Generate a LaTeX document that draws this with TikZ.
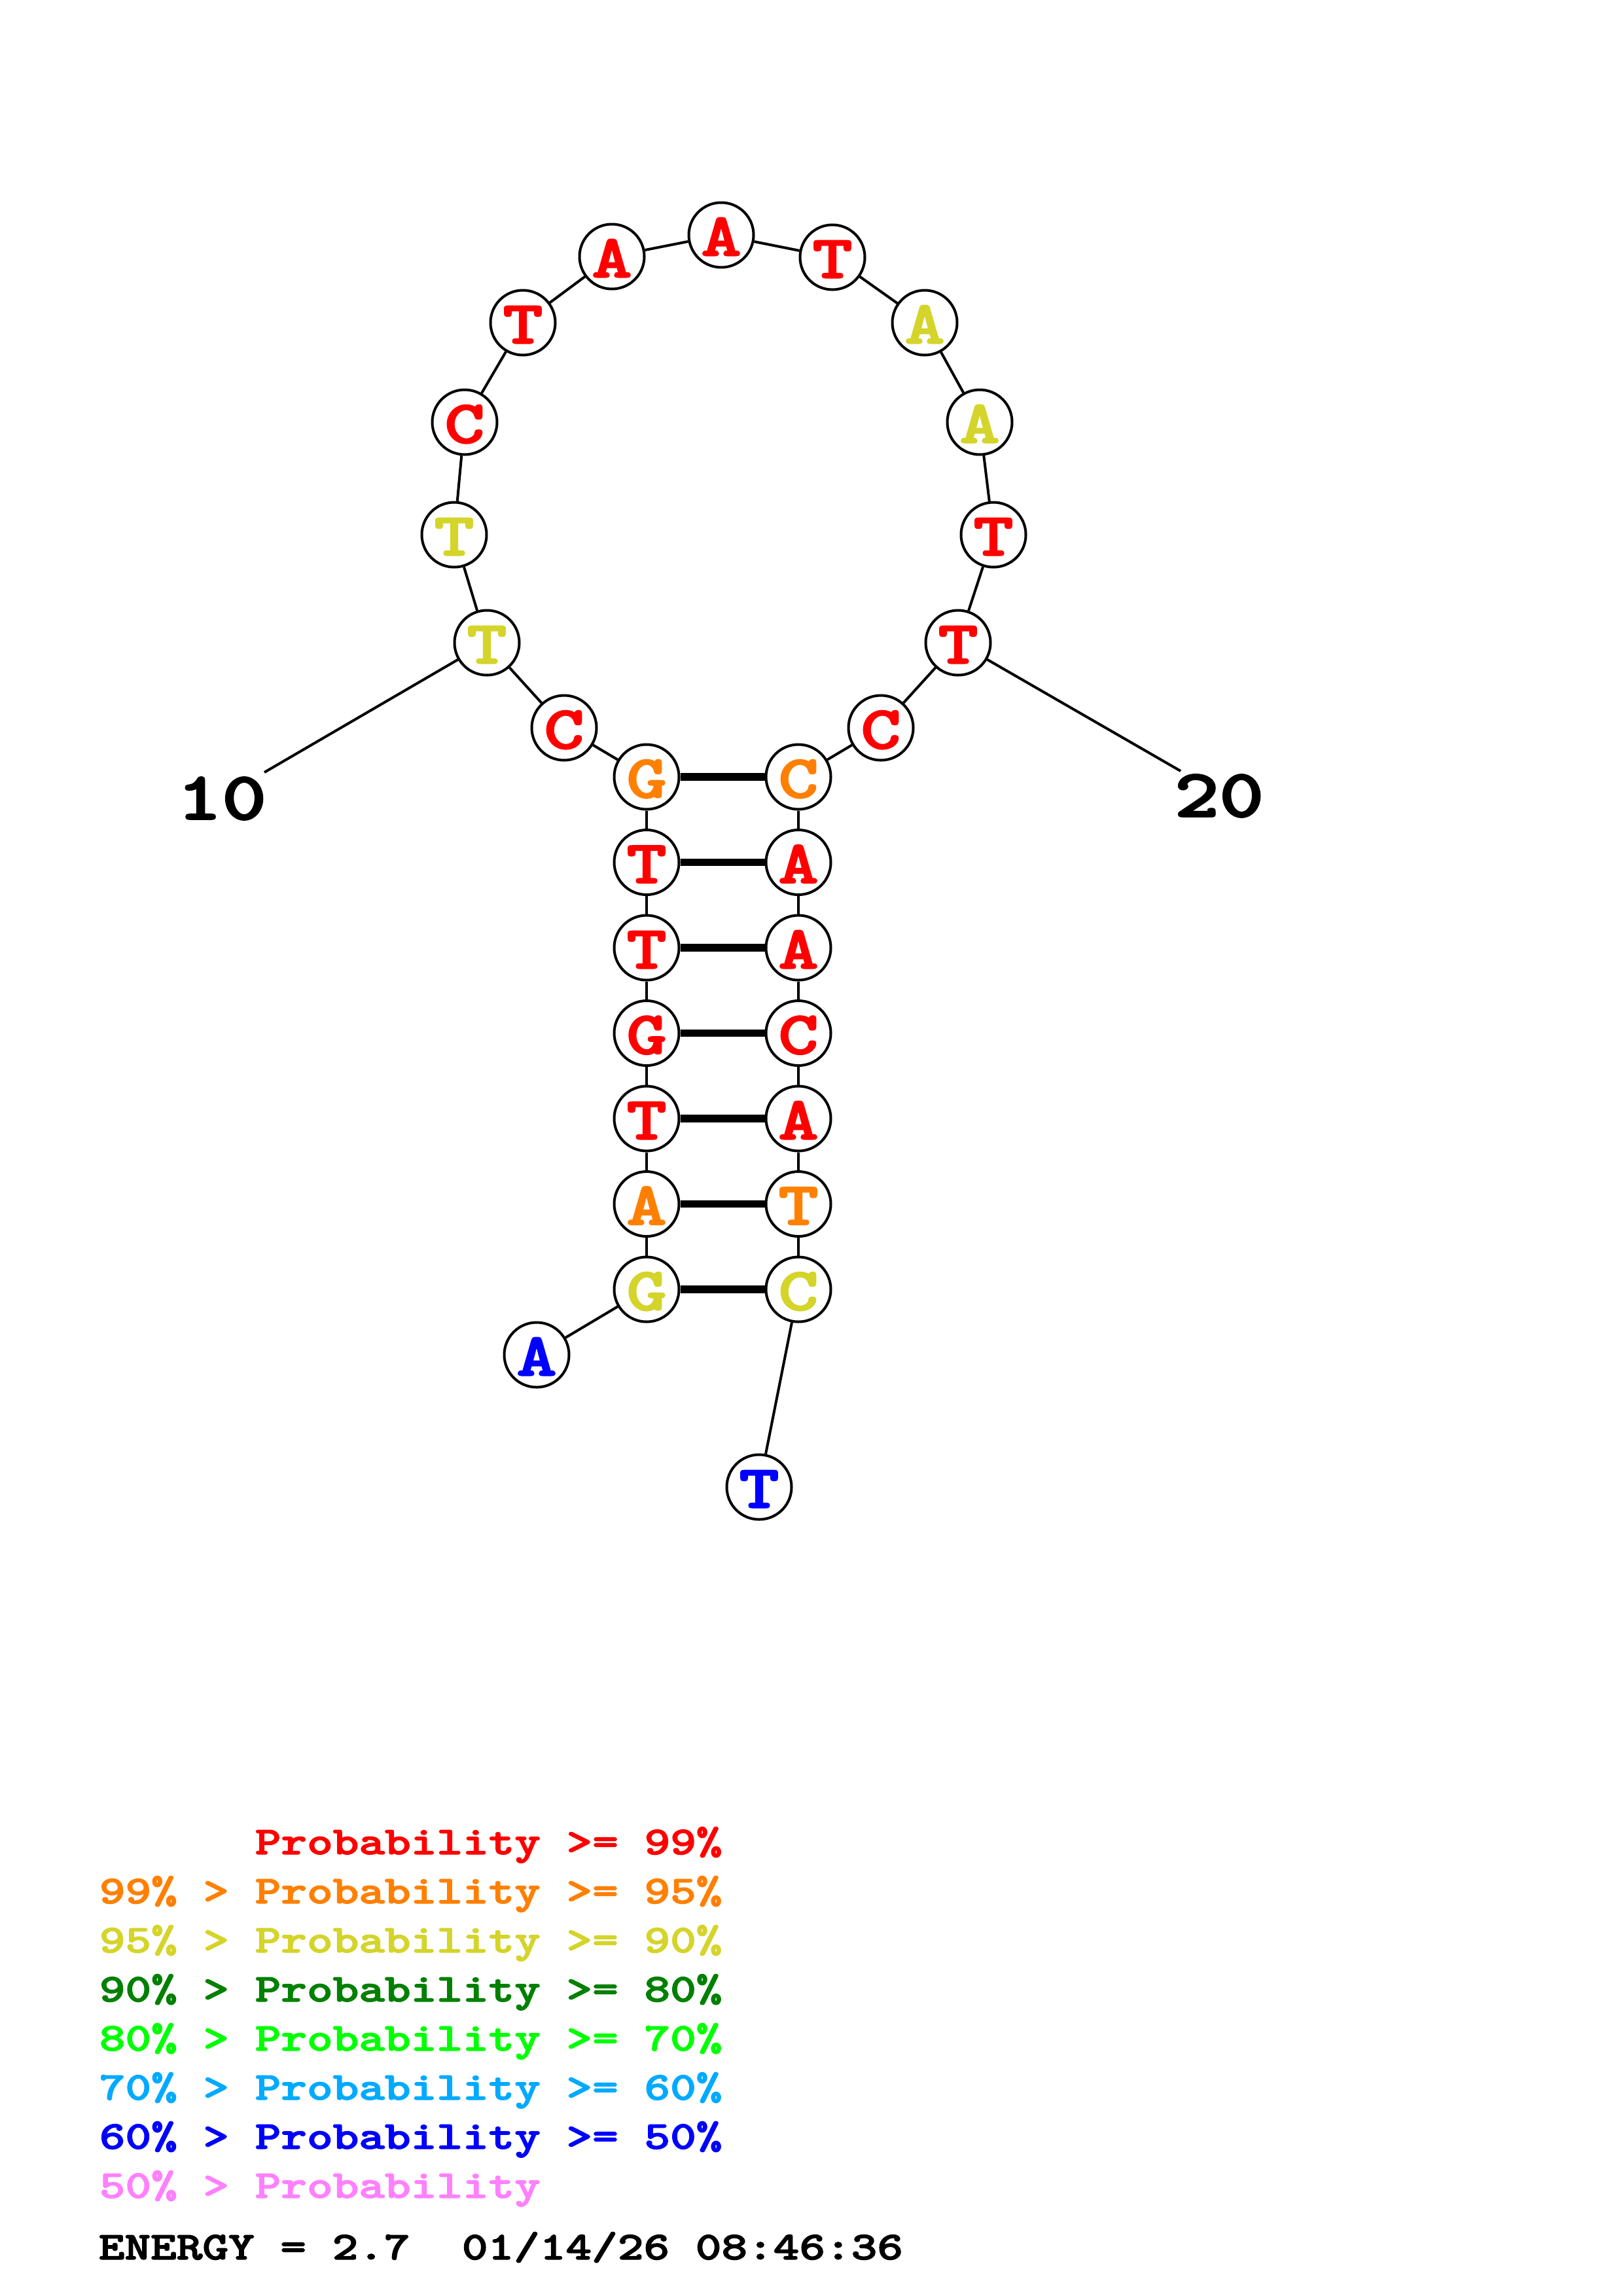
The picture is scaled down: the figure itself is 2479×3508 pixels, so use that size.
\documentclass[tikz,border=0pt]{standalone}
\usepackage{fontspec}
\usepackage{graphicx}
\newfontfamily\lmb{lmmonolt10-bold.otf}[FakeBold=2]
\newcommand{\cw}[1]{\scalebox{1.25}[1]{\lmb #1}}
\definecolor{pR}{RGB}{255,0,0}
\definecolor{pO}{RGB}{255,128,0}
\definecolor{pY}{RGB}{212,212,42}
\definecolor{pG}{RGB}{0,128,0}
\definecolor{pL}{RGB}{0,255,0}
\definecolor{pC}{RGB}{0,170,255}
\definecolor{pB}{RGB}{0,0,255}
\definecolor{pP}{RGB}{255,128,255}
\tikzset{
  base/.style={circle, draw=black, line width=0.96bp, fill=white, inner sep=0pt,
    minimum size=23.76bp, text height=15.2bp, text depth=0pt,
    font=\fontsize{22.4bp}{26bp}\selectfont},
  bb/.style={line width=0.96bp, draw=black},
  bond/.style={line width=2.7bp, draw=black},
  numlab/.style={inner sep=0pt, font=\fontsize{25bp}{28bp}\selectfont},
  leg/.style={anchor=base west, inner sep=0pt, font=\fontsize{14.5bp}{18bp}\selectfont}
}
\begin{document}
\begin{tikzpicture}[x=0.24bp, y=-0.24bp]
\useasboundingbox[fill=white] (0,0) rectangle (2479,3508);
% nucleotides
\node[base, text=pB] (n1)  at (820,2070) {\cw{A}};
\node[base, text=pY] (n2)  at (988,1970) {\cw{G}};
\node[base, text=pO] (n3)  at (988,1839.5) {\cw{A}};
\node[base, text=pR] (n4)  at (988,1709) {\cw{T}};
\node[base, text=pR] (n5)  at (988,1578.5) {\cw{G}};
\node[base, text=pR] (n6)  at (988,1448) {\cw{T}};
\node[base, text=pR] (n7)  at (988,1317.5) {\cw{T}};
\node[base, text=pO] (n8)  at (988,1187) {\cw{G}};
\node[base, text=pR] (n9)  at (862,1112) {\cw{C}};
\node[base, text=pY] (n10) at (744,982) {\cw{T}};
\node[base, text=pY] (n11) at (694,817) {\cw{T}};
\node[base, text=pR] (n12) at (710,645) {\cw{C}};
\node[base, text=pR] (n13) at (799,493) {\cw{T}};
\node[base, text=pR] (n14) at (935,392) {\cw{A}};
\node[base, text=pR] (n15) at (1102,359) {\cw{A}};
\node[base, text=pR] (n16) at (1272,393) {\cw{T}};
\node[base, text=pY] (n17) at (1413,493) {\cw{A}};
\node[base, text=pY] (n18) at (1497,645) {\cw{A}};
\node[base, text=pR] (n19) at (1518,817) {\cw{T}};
\node[base, text=pR] (n20) at (1464,982) {\cw{T}};
\node[base, text=pR] (n21) at (1346,1112) {\cw{C}};
\node[base, text=pO] (n22) at (1220,1187) {\cw{C}};
\node[base, text=pR] (n23) at (1220,1317.5) {\cw{A}};
\node[base, text=pR] (n24) at (1220,1448) {\cw{A}};
\node[base, text=pR] (n25) at (1220,1578.5) {\cw{C}};
\node[base, text=pR] (n26) at (1220,1709) {\cw{A}};
\node[base, text=pO] (n27) at (1220,1839.5) {\cw{T}};
\node[base, text=pY] (n28) at (1220,1970) {\cw{C}};
\node[base, text=pB] (n29) at (1160,2272) {\cw{T}};
% backbone
\foreach \a/\b in {1/2,2/3,3/4,4/5,5/6,6/7,7/8,8/9,9/10,10/11,11/12,12/13,13/14,14/15,15/16,16/17,17/18,18/19,19/20,20/21,21/22,22/23,23/24,24/25,25/26,26/27,27/28,28/29}
  \draw[bb] (n\a) -- (n\b);
% base pairs
\foreach \a/\b in {2/28,3/27,4/26,5/25,6/24,7/23,8/22}
  \draw[bond] (n\a) -- (n\b);
% numbering
\coordinate (t10) at (404,1180);
\coordinate (t20) at (1804,1178);
\draw[bb] (n10) -- (t10);
\draw[bb] (n20) -- (t20);
\node[numlab] (l10) at (339,1220) {\cw{10}};
\node[numlab] (l20) at (1863,1216) {\cw{20}};
% legend
\node[leg, text=pR] (g1) at (389,2833) {\cw{Probability >= 99\%}};
\node[leg, text=pO] (g2) at (151,2908) {\cw{99\% > Probability >= 95\%}};
\node[leg, text=pY] (g3) at (151,2983) {\cw{95\% > Probability >= 90\%}};
\node[leg, text=pG] (g4) at (151,3058) {\cw{90\% > Probability >= 80\%}};
\node[leg, text=pL] (g5) at (151,3133) {\cw{80\% > Probability >= 70\%}};
\node[leg, text=pC] (g6) at (151,3208) {\cw{70\% > Probability >= 60\%}};
\node[leg, text=pB] (g7) at (151,3283) {\cw{60\% > Probability >= 50\%}};
\node[leg, text=pP] (g8) at (151,3358) {\cw{50\% > Probability}};
\node[leg, text=black] (en) at (150,3452) {\cw{ENERGY = 2.7\ \ 01/14/26 08:46:36}};
\end{tikzpicture}
\end{document}
